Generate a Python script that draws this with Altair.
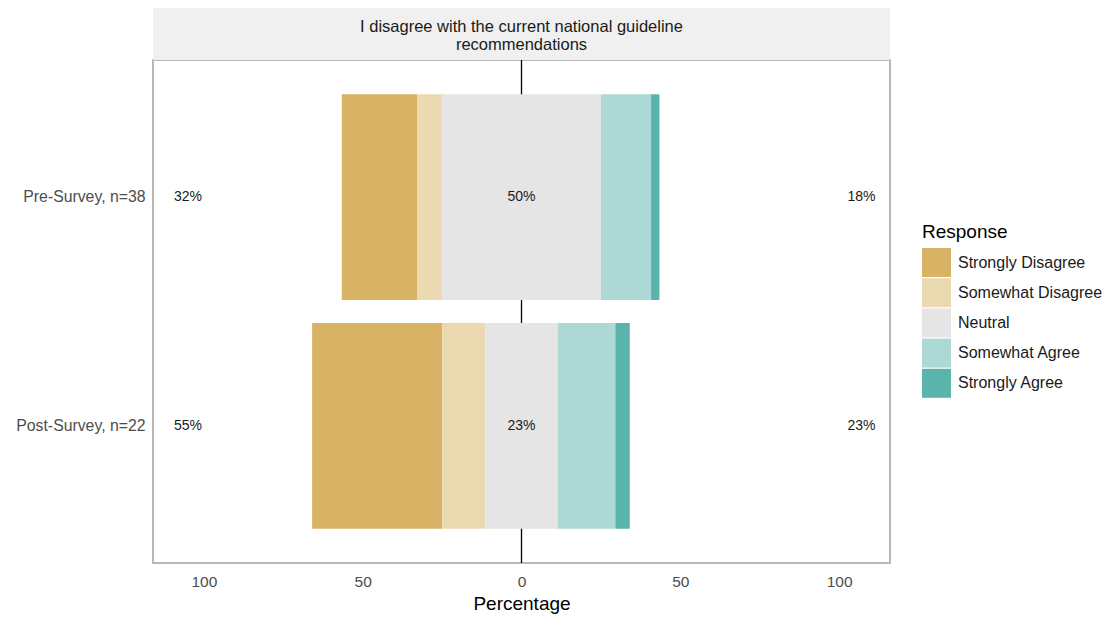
import altair as alt
import pandas as pd

# ---- data ----
groups = ["Pre-Survey, n=38", "Post-Survey, n=22"]
responses = ["Strongly Disagree", "Somewhat Disagree", "Neutral", "Somewhat Agree", "Strongly Agree"]
colors = ["#D8B365", "#EBD9B2", "#E5E5E5", "#ACD9D5", "#5AB4AC"]
pre_counts = [9, 3, 19, 6, 1]
post_counts = [9, 3, 5, 4, 1]
counts = {groups[0]: pre_counts, groups[1]: post_counts}
panel_title = "I disagree with the current national guideline\nrecommendations"

# ---- build segment table (diverging around the neutral midpoint) ----
rows, lab_rows = [], []
for g in groups:
    c = counts[g]
    n = sum(c)
    p = [v / n * 100 for v in c]
    neu_half = p[2] / 2
    segs = [
        (responses[0], -neu_half - p[1] - p[0], -neu_half - p[1]),
        (responses[1], -neu_half - p[1], -neu_half),
        (responses[2], -neu_half, neu_half),
        (responses[3], neu_half, neu_half + p[3]),
        (responses[4], neu_half + p[3], neu_half + p[3] + p[4]),
    ]
    for r, s, e in segs:
        rows.append({"group": g, "response": r, "start": s, "end": e})
    lab_rows.append({"group": g, "pos": -105, "txt": f"{round(p[0] + p[1])}%"})
    lab_rows.append({"group": g, "pos": 0, "txt": f"{round(p[2])}%"})
    lab_rows.append({"group": g, "pos": 107, "txt": f"{round(p[3] + p[4])}%"})

df = pd.DataFrame(rows)
labels_df = pd.DataFrame(lab_rows)

W, H = 737, 503
xscale = alt.Scale(domain=[-116, 116], nice=False, zero=False)
yscale = alt.Scale(domain=groups, paddingInner=0.1, paddingOuter=0.15)

header_bg = alt.Chart(pd.DataFrame({"t": [panel_title]})).mark_rect(
    fill="#F0F0F0"
).encode(x=alt.value(0), x2=alt.value(W), y=alt.value(-52), y2=alt.value(0))

header_txt = alt.Chart(pd.DataFrame({"t": [panel_title]})).mark_text(
    font="Liberation Sans", fontSize=16.5, color="#1A1A1A", lineBreak="\n",
    lineHeight=18, align="center", baseline="middle"
).encode(x=alt.value(W / 2), y=alt.value(-33), text="t:N")

zero_rule = alt.Chart(pd.DataFrame({"x": [0]})).mark_rule(
    color="black", strokeWidth=1.3
).encode(x=alt.X("x:Q", scale=xscale))

bars = alt.Chart(df).mark_bar(opacity=1).encode(
    x=alt.X("start:Q", scale=xscale,
            axis=alt.Axis(values=[-100, -50, 0, 50, 100], labelExpr="abs(datum.value)",
                          title="Percentage", grid=False, ticks=False, domain=False,
                          labelFontSize=15.5, labelColor="#4D4D4D", labelPadding=11,
                          labelFont="Liberation Sans",
                          titleFontSize=19, titleFontWeight="normal", titleColor="#000000",
                          titleFont="Liberation Sans", titlePadding=5)),
    x2="end:Q",
    y=alt.Y("group:N", scale=yscale, sort=groups,
            axis=alt.Axis(title=None, ticks=False, domain=False, grid=False,
                          labelFontSize=15.8, labelColor="#4D4D4D", labelPadding=8,
                          labelFont="Liberation Sans", labelLimit=300)),
    color=alt.Color("response:N",
                    scale=alt.Scale(domain=responses, range=colors),
                    legend=alt.Legend(title="Response", orient="none",
                                      legendX=769, legendY=163,
                                      symbolType="square", symbolSize=841,
                                      symbolStrokeWidth=0, symbolOpacity=1,
                                      rowPadding=1.2, labelOffset=7,
                                      labelFontSize=16, labelColor="#1A1A1A",
                                      labelFont="Liberation Sans", labelLimit=300,
                                      titleFontSize=19, titleFontWeight="normal",
                                      titleColor="#000000", titleFont="Liberation Sans",
                                      titlePadding=6)),
)

pct = alt.Chart(labels_df).mark_text(
    font="Liberation Sans", fontSize=14, color="#1A1A1A", align="center", baseline="middle"
).encode(
    x=alt.X("pos:Q", scale=xscale),
    y=alt.Y("group:N", scale=yscale, sort=groups),
    text="txt:N",
)

chart = alt.layer(header_bg, header_txt, zero_rule, bars, pct).properties(
    width=W, height=H,
    autosize=alt.AutoSizeParams(type="none"),
    padding={"left": 145, "top": 52, "right": 218, "bottom": 56},
    view=alt.ViewBackground(stroke="#B8B8B8", strokeWidth=2),
).configure(background="white")

chart.save("out.html", embed_options={"renderer": "svg", "actions": False})
